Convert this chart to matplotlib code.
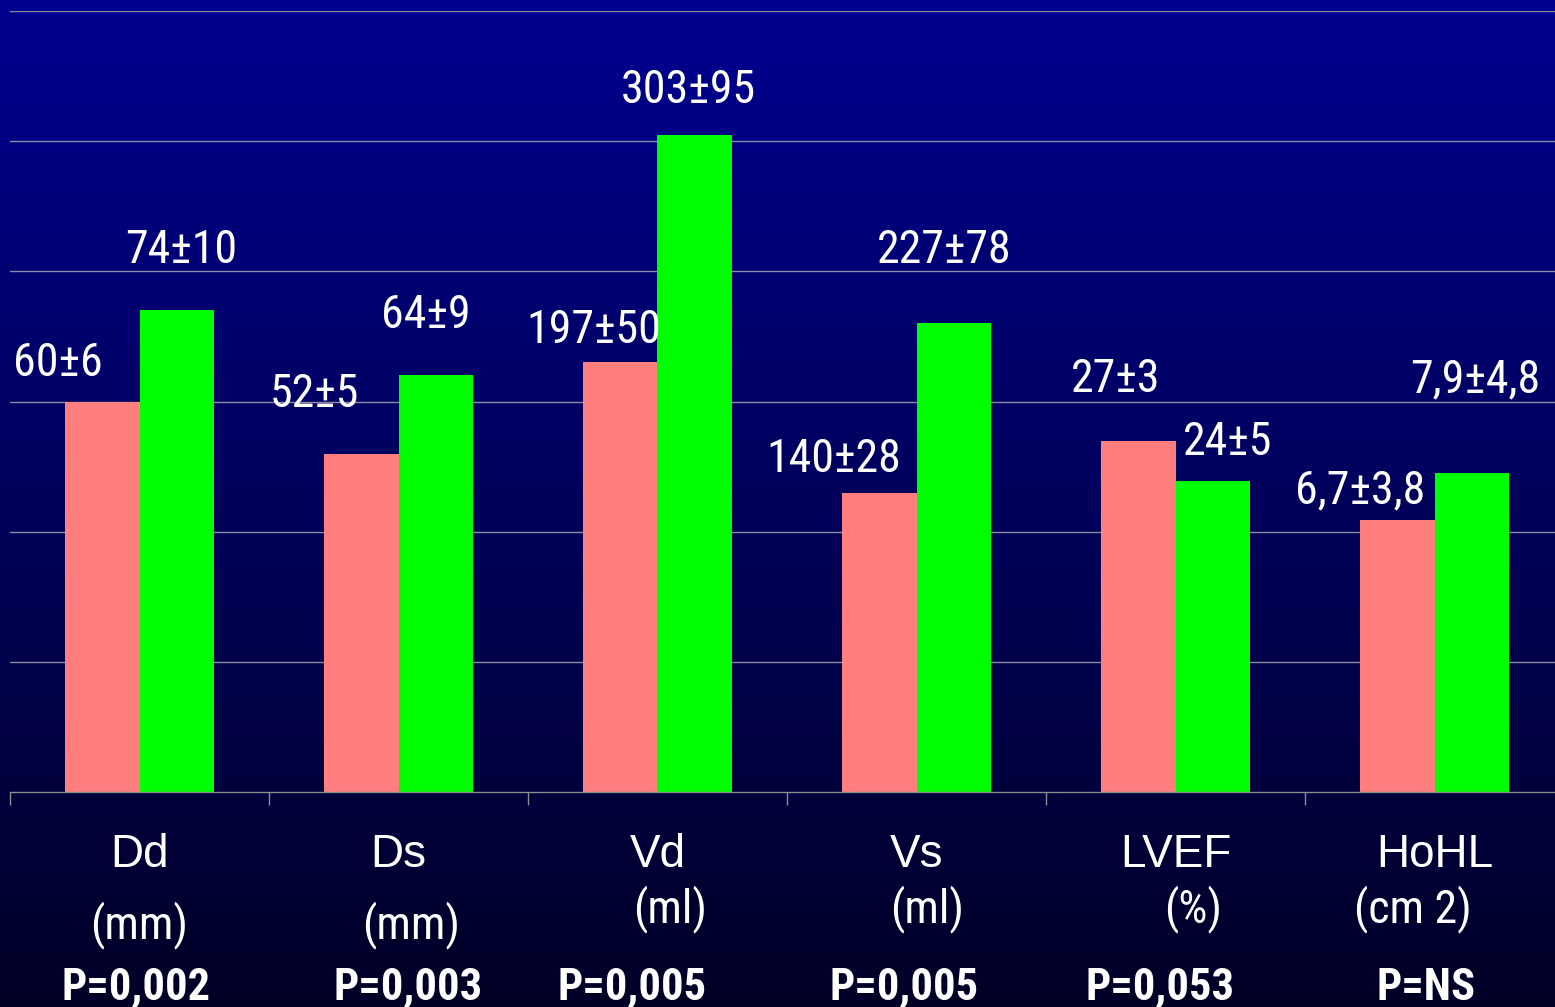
import numpy as np
import matplotlib
matplotlib.use("Agg")
import matplotlib.pyplot as plt
import matplotlib.transforms as mtransforms

# categories and labels
categories = ["Dd", "Ds", "Vd", "Vs", "LVEF", "HoHL"]
units = ["(mm)", "(mm)", "(ml)", "(ml)", "(%)", "(cm 2)"]
p_values = ["P=0,002", "P=0,003", "P=0,005", "P=0,005", "P=0,053", "P=NS"]

# bar heights as drawn on the slide (axis units)
pink_heights = [3.00, 2.60, 3.30, 2.30, 2.70, 2.09]
green_heights = [3.70, 3.20, 5.05, 3.60, 2.39, 2.45]
pink_labels = ["60±6", "52±5", "197±50", "140±28", "27±3", "6,7±3,8"]
green_labels = ["74±10", "64±9", "303±95", "227±78", "24±5", "7,9±4,8"]

# label placement relative to bar (x from bar centre, y from bar top)
pink_dx = [-0.174, -0.181, -0.104, -0.178, -0.087, -0.143]
pink_dy = [0.195, 0.357, 0.149, 0.158, 0.372, 0.130]
green_dx = [0.017, -0.037, -0.025, -0.035, 0.058, 0.015]
green_dy = [0.363, 0.364, 0.242, 0.463, 0.198, 0.622]

# text below axis (x offset from category centre, baseline in pixels from top)
unit_dx = [0.0, 0.048, 0.05, 0.042, 0.068, -0.083]
unit_base = [938, 938, 922, 922, 922, 922]
p_dx = [-0.014, 0.037, -0.098, -0.048, -0.06, -0.033]

W, H = 1555, 1007
narrow = ["Roboto Condensed", "Liberation Sans", "DejaVu Sans"]
regular = ["Liberation Sans", "DejaVu Sans"]

fig = plt.figure(figsize=(W / 100, H / 100), dpi=100)

# background gradient, navy at top to almost black at bottom
bg = fig.add_axes([0, 0, 1, 1], zorder=-10)
t = np.linspace(0, 1, 256)[:, None]
grad = np.zeros((256, 2, 3))
grad[:, :, 2] = (0x90 * (1 - t) + 0x26 * t) / 255.0
bg.imshow(grad, aspect="auto", extent=[0, 1, 0, 1], interpolation="bilinear")
bg.axis("off")

def fx(px):
    return px / W

def fy(py):
    return 1 - py / H

left, right, top, base = 10, 10 + 6 * 259, 11, 792
ax = fig.add_axes([fx(left), fy(base), fx(right - left), fy(top) - fy(base)])
ax.set_facecolor("none")

x = np.arange(len(categories))
bw = 0.286
ax.bar(x - bw / 2, pink_heights, bw, color="#FF7F7F", zorder=3)
ax.bar(x + bw / 2, green_heights, bw, color="#00FF00", zorder=3)

ax.set_xlim(-0.5, len(categories) - 0.5)
ax.set_ylim(0, 6)
ax.set_yticks(np.arange(1, 7))
ax.yaxis.grid(True, color="#8a8aa2", linewidth=1.0, zorder=0)
ax.tick_params(axis="y", left=False, labelleft=False)
ax.set_xticks([])
ax.set_xticks(np.arange(-0.5, len(categories) - 0.5), minor=True)
ax.tick_params(axis="x", which="minor", direction="out", length=9,
               color="#8c8c8c", width=1.0)
for s in ["top", "right", "left"]:
    ax.spines[s].set_visible(False)
ax.spines["bottom"].set_color("#8c8c8c")
ax.spines["bottom"].set_linewidth(1.0)
ax.spines["bottom"].set_zorder(4)

# value labels
for i in range(len(categories)):
    ax.text(x[i] - bw / 2 + pink_dx[i], pink_heights[i] + pink_dy[i], pink_labels[i],
            ha="center", va="baseline", color="white", fontsize=33, family=narrow,
            clip_on=False)
    ax.text(x[i] + bw / 2 + green_dx[i], green_heights[i] + green_dy[i], green_labels[i],
            ha="center", va="baseline", color="white", fontsize=33, family=narrow,
            clip_on=False)

# category names, units and p values under the axis
tr = mtransforms.blended_transform_factory(ax.transData, fig.transFigure)
for i in range(len(categories)):
    ax.text(x[i], fy(867), categories[i], transform=tr, ha="center", va="baseline",
            color="white", fontsize=33, family=regular, clip_on=False)
    ax.text(x[i] + unit_dx[i], fy(unit_base[i]), units[i], transform=tr, ha="center",
            va="baseline", color="white", fontsize=33, family=narrow, clip_on=False)
    ax.text(x[i] + p_dx[i], fy(1000), p_values[i], transform=tr, ha="center",
            va="baseline", color="white", fontsize=32, family=narrow,
            fontweight="bold", clip_on=False)

fig.savefig("out.png", dpi=100)
